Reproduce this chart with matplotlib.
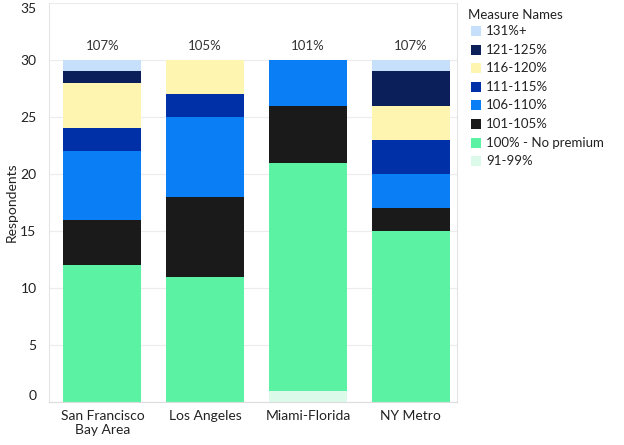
import matplotlib.pyplot as plt
import matplotlib.patches as mpatches
import numpy as np

plt.rcParams["font.family"] = ["Lato", "DejaVu Sans"]

regions = ["San Francisco\nBay Area", "Los Angeles", "Miami-Florida", "NY Metro"]
totals = ["107%", "105%", "101%", "107%"]

# stacked bottom to top
measures = ["91-99%", "100% - No premium", "101-105%", "106-110%",
            "111-115%", "116-120%", "121-125%", "131%+"]
colors = ["#dcfaea", "#5cf2a4", "#1a1a1a", "#0a7ff5",
          "#0030a8", "#fef6b0", "#0b1f5a", "#c6e0fb"]

values = {
    "91-99%":            [0, 0, 1, 0],
    "100% - No premium": [12, 11, 20, 15],
    "101-105%":          [4, 7, 5, 2],
    "106-110%":          [6, 7, 4, 3],
    "111-115%":          [2, 2, 0, 3],
    "116-120%":          [4, 3, 0, 3],
    "121-125%":          [1, 0, 0, 3],
    "131%+":             [1, 0, 0, 1],
}

fig = plt.figure(figsize=(6.24, 4.45), dpi=100)
ax = fig.add_axes([49 / 624, 1 - 402 / 445, (457 - 49) / 624, (402 - 3) / 445])

x = np.arange(len(regions))
bottom = np.zeros(len(regions))
for m, c in zip(measures, colors):
    v = np.array(values[m], dtype=float)
    ax.bar(x, v, bottom=bottom, width=0.76, color=c, edgecolor="none", zorder=2)
    bottom += v

for i, t in enumerate(totals):
    ax.text(x[i], bottom[i] + 0.7, t, ha="center", va="bottom",
            fontsize=9.5, color="#333333")

ax.set_xlim(-0.52, 3.45)
ax.set_ylim(0, 35)
ax.set_yticks(range(0, 36, 5))
ax.set_xticks(x)
ax.set_xticklabels(regions, fontsize=10, color="#222222")
ax.tick_params(axis="both", length=0, pad=6)
ax.tick_params(axis="y", labelsize=10, labelcolor="#222222", pad=9)
ylabels = ax.get_yticklabels()
ylabels[0].set_va("bottom")
ylabels[-1].set_va("top")
ax.yaxis.grid(True, color="#ececec", linewidth=0.8, zorder=0)
ax.spines["top"].set_visible(False)
ax.spines["left"].set_color("#e4e4e4")
ax.spines["bottom"].set_color("#dcdcdc")
ax.spines["right"].set_color("#e4e4e4")
ax.set_ylabel("Respondents", fontsize=10, color="#222222", labelpad=2)

# legend drawn in figure coords
fig.text(468 / 624, 1 - 15 / 445, "Measure Names", fontsize=9.5,
         color="#222222", va="center", ha="left")
legend_order = list(zip(measures, colors))[::-1]
for k, (m, c) in enumerate(legend_order):
    yc = 31 + k * 18.6
    fig.patches.append(mpatches.Rectangle(
        (471 / 624, 1 - (yc + 5) / 445), 10 / 624, 10 / 445,
        transform=fig.transFigure, facecolor=c, edgecolor="none"))
    fig.text(486 / 624, 1 - yc / 445, m, fontsize=9.5, color="#222222",
             va="center", ha="left")

fig.savefig("out.png", dpi=100)
